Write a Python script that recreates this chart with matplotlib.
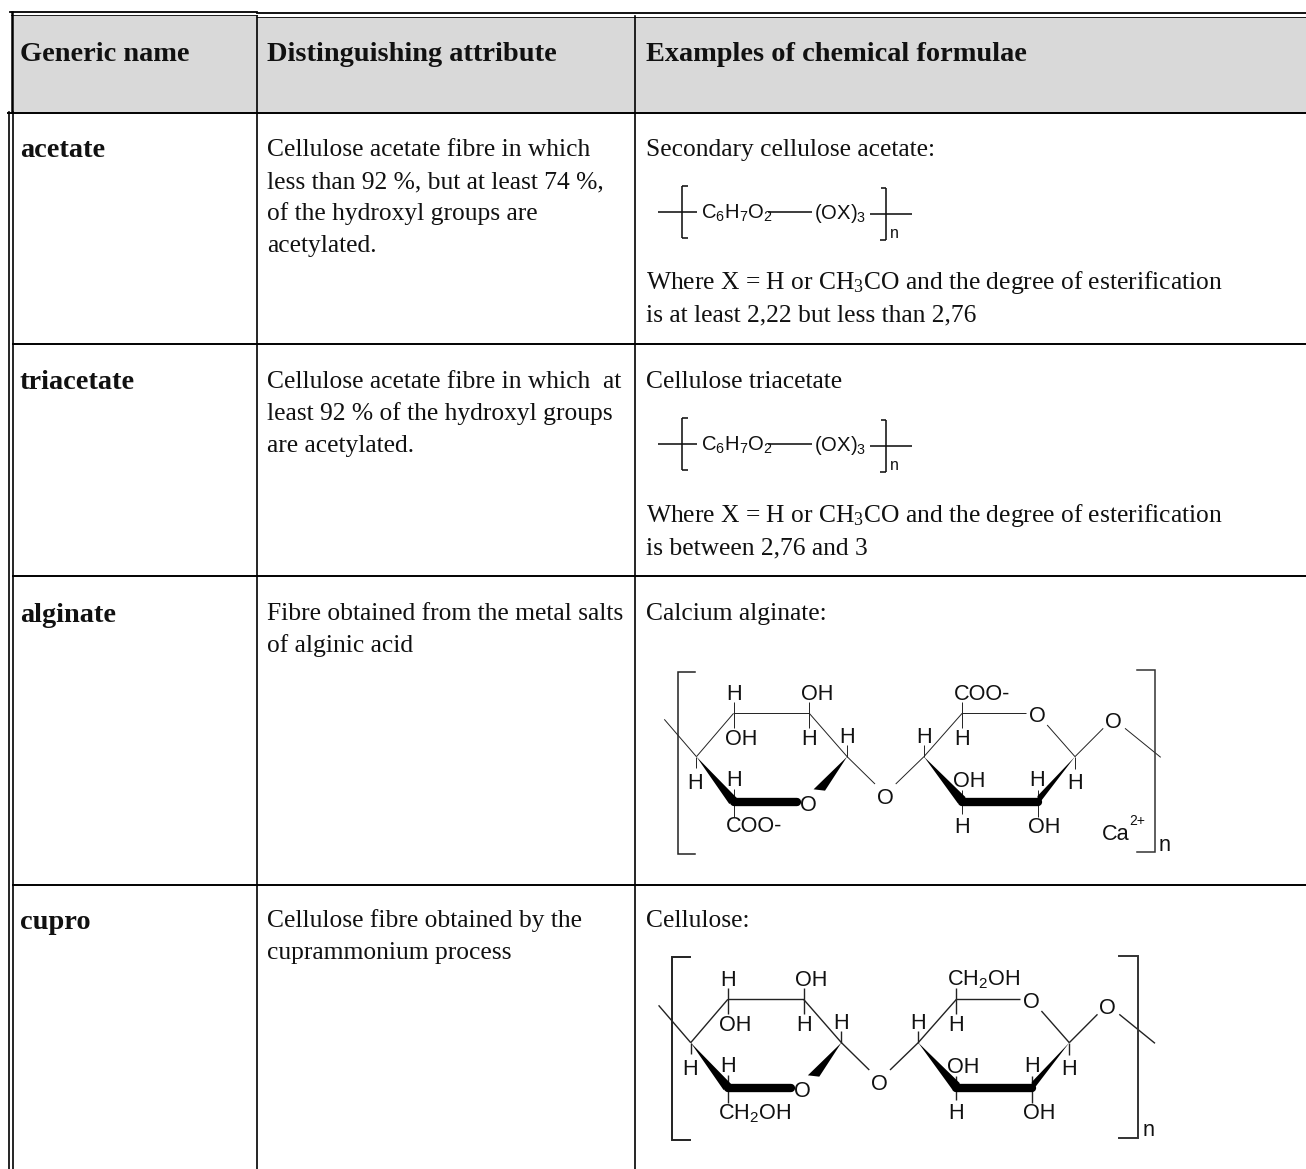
import matplotlib
matplotlib.use("Agg")
import matplotlib.pyplot as plt
from matplotlib.patches import Polygon, Rectangle

plt.rcParams["mathtext.default"] = "regular"

SERIF = "Liberation Serif"
SANS = "Liberation Sans"
BODY_SIZE = 18.4
HEAD_SIZE = 20.4
MOL_SIZE = 15.6
UNIT_SIZE = 14.6
INK = "#111111"

# column x edges and row y edges of the table, in pixels
COL_X = [257, 635]
ROW_Y = [884.7, 576, 344]

HEADERS = ["Generic name", "Distinguishing attribute", "Examples of chemical formulae"]
GENERIC_NAMES = ["acetate", "triacetate", "alginate", "cupro"]
GENERIC_BASE = [157, 389, 622, 929]

ATTRIBUTE_LINES = [
    ("Cellulose acetate fibre in which", 156),
    ("less than 92 %, but at least 74 %,", 188),
    ("of the hydroxyl groups are", 220),
    ("acetylated.", 252),
    ("Cellulose acetate fibre in which  at", 388),
    ("least 92 % of the hydroxyl groups", 420),
    ("are acetylated.", 452),
    ("Fibre obtained from the metal salts", 620),
    ("of alginic acid", 652),
    ("Cellulose fibre obtained by the", 927),
    ("cuprammonium process", 959),
]
EXAMPLE_LINES = [
    ("Secondary cellulose acetate:", 156),
    ("Where X = H or CH$_3$CO and the degree of esterification", 289),
    ("is at least 2,22 but less than 2,76", 321),
    ("Cellulose triacetate", 388),
    ("Where X = H or CH$_3$CO and the degree of esterification", 522),
    ("is between 2,76 and 3", 554),
    ("Calcium alginate:", 620),
    ("Cellulose:", 927),
]

# sugar ring drawing (x / 2.8, y / 3 gives pixels)
THIN_BONDS = [
    ((68, 178), (158, 290)), ((158, 290), (262, 160)), ((262, 160), (474, 160)),
    ((474, 160), (580, 290)), ((580, 290), (658, 372)), ((716, 372), (795, 290)),
    ((795, 290), (902, 160)), ((902, 160), (1080, 160)), ((1140, 195), (1218, 290)),
    ((1218, 290), (1297, 205)), ((1358, 205), (1458, 292)),
    ((262, 125), (262, 205)), ((474, 125), (474, 205)), ((158, 290), (158, 325)),
    ((262, 388), (262, 470)), ((580, 255), (580, 290)), ((795, 255), (795, 290)),
    ((902, 125), (902, 205)), ((902, 390), (902, 462)), ((1113, 390), (1113, 470)),
    ((1218, 290), (1218, 328)),
]
WEDGES = [
    [(158, 290), (250, 432), (272, 415)],
    [(580, 290), (486, 388), (518, 392)],
    [(795, 290), (890, 430), (912, 412)],
    [(1218, 290), (1113, 408), (1113, 437)],
]
THICK_BONDS = [((262, 425), (440, 425)), ((902, 425), (1113, 425))]
RING_LABELS = [
    ("H", 262, 97), ("OH", 495, 97), ("OH", 283, 232), ("H", 474, 232), ("H", 580, 225),
    ("H", 155, 362), ("H", 262, 355), ("O", 472, 428), ("O", 686, 408), ("H", 795, 225),
    ("H", 902, 232), ("O", 1112, 163), ("O", 1325, 180), ("OH", 922, 358), ("H", 1113, 355),
    ("H", 1218, 362), ("H", 902, 495), ("OH", 1133, 495),
]
ALGINATE_LABELS = [("COO-", 318, 492), ("COO-", 958, 97), ("Ca", 1333, 515)]
CELLULOSE_LABELS = [("CH$_2$OH", 338, 494), ("CH$_2$OH", 977, 94)]


def draw_table(ax):
    ax.add_patch(Rectangle((13, 14.5), 244, 97.5, facecolor="#d9d9d9", edgecolor="none", zorder=0))
    ax.add_patch(Rectangle((257, 16.5), 1049, 95.5, facecolor="#d9d9d9", edgecolor="none", zorder=0))
    # header box, doubled along the top and left
    ax.plot([10, 257], [12, 12], color="black", lw=1.3)
    ax.plot([11, 257], [14.7, 14.7], color="black", lw=0.6)
    ax.plot([257, 1306], [13, 13], color="black", lw=1.3)
    ax.plot([257, 1306], [16.7, 16.7], color="black", lw=0.6)
    ax.plot([12.2, 12.2], [12, 112], color="black", lw=1.8)
    ax.plot([9, 9], [112, 1169], color="black", lw=1.2)
    ax.plot([12.7, 12.7], [112, 1169], color="black", lw=1.2)
    for x in COL_X:
        ax.plot([x, x], [16, 1169], color="black", lw=1.2)
    ax.plot([8, 1306], [112.5, 112.5], color="black", lw=1.4)
    for y in ROW_Y:
        ax.plot([12.7, 1306], [y, y], color="black", lw=1.4)


def draw_text(ax):
    for x, label in zip([20, 267, 646], HEADERS):
        ax.text(x, 61, label, family=SERIF, weight="bold", fontsize=HEAD_SIZE, va="baseline", color=INK)
    for name, y in zip(GENERIC_NAMES, GENERIC_BASE):
        ax.text(20, y, name, family=SERIF, weight="bold", fontsize=HEAD_SIZE, va="baseline", color=INK)
    for line, y in ATTRIBUTE_LINES:
        ax.text(267, y, line, family=SERIF, fontsize=BODY_SIZE, va="baseline", color=INK)
    for line, y in EXAMPLE_LINES:
        ax.text(646, y, line, family=SERIF, fontsize=BODY_SIZE, va="baseline", color=INK)


def draw_simple_formula(ax, dy):
    # short repeat unit, 1/3 pixel units from (640, 170 + dy)
    def p(zx, zy):
        return 640 + zx / 3, 170 + dy + zy / 3

    segments = [
        ((55, 127), (172, 127)), ((385, 127), (515, 127)), ((690, 132), (815, 132)),
        ((143, 47), (127, 47)), ((127, 47), (127, 205)), ((127, 205), (143, 205)),
        ((722, 53), (738, 53)), ((738, 53), (738, 211)), ((738, 211), (720, 211)),
    ]
    for a, b in segments:
        xa, ya = p(*a)
        xb, yb = p(*b)
        ax.plot([xa, xb], [ya, yb], color="#111111", lw=1.15, solid_capstyle="butt")
    x, y = p(183, 147)
    ax.text(x, y, "C$_6$H$_7$O$_2$", family=SANS, fontsize=UNIT_SIZE, va="baseline", color=INK)
    x, y = p(523, 147)
    ax.text(x, y, "(OX)$_3$", family=SANS, fontsize=UNIT_SIZE, va="baseline", color=INK)
    x, y = p(750, 203)
    ax.text(x, y, "n", family=SANS, fontsize=11.5, va="baseline", color=INK)


def draw_ring(ax, ox, oy, labels, left_br, right_br, n_pos, lw):
    def p(zx, zy):
        return ox + zx / 2.8, oy + zy / 3

    for a, b in THIN_BONDS:
        xa, ya = p(*a)
        xb, yb = p(*b)
        ax.plot([xa, xb], [ya, yb], color="#222222", lw=lw, solid_capstyle="butt", zorder=2)
    for a, b in THICK_BONDS:
        xa, ya = p(*a)
        xb, yb = p(*b)
        ax.plot([xa, xb], [ya, yb], color="black", lw=6.0, solid_capstyle="round", zorder=2)
    for pts in WEDGES:
        ax.add_patch(Polygon([p(*q) for q in pts], closed=True, facecolor="black", edgecolor="none", zorder=2))
    for text, zx, zy in RING_LABELS + labels:
        x, y = p(zx, zy)
        ax.text(x, y, text, family=SANS, fontsize=MOL_SIZE, ha="center", va="center_baseline",
                color=INK, zorder=3)
    for pts, color in ((left_br, "#222222"), (right_br, "#333333")):
        xy = [p(*q) for q in pts]
        ax.plot([q[0] for q in xy], [q[1] for q in xy], color=color, lw=lw + 0.4, solid_joinstyle="miter", zorder=2)
    x, y = p(*n_pos)
    ax.text(x, y, "n", family=SANS, fontsize=MOL_SIZE, ha="center", va="center_baseline", color=INK)


def main():
    fig = plt.figure(figsize=(13.06, 11.69), dpi=100)
    ax = fig.add_axes([0, 0, 1, 1])
    ax.set_xlim(0, 1306)
    ax.set_ylim(1169, 0)
    ax.axis("off")

    draw_table(ax)
    draw_text(ax)
    draw_simple_formula(ax, 0)
    draw_simple_formula(ax, 232)

    draw_ring(ax, 640, 660, ALGINATE_LABELS,
              [(155, 37), (105, 37), (105, 582), (155, 582)],
              [(1392, 30), (1442, 30), (1442, 575), (1392, 575)],
              (1470, 548), 0.7)
    x, y = 640 + 1393 / 2.8, 660 + 478 / 3
    ax.text(x, y, "2+", family=SANS, fontsize=10, ha="center", va="center_baseline", color=INK)

    draw_ring(ax, 640 - 16 / 2.8, 950 - 12 / 3, CELLULOSE_LABELS,
              [(156, 34), (106, 34), (106, 582), (156, 582)],
              [(1358, 29), (1410, 29), (1410, 575), (1358, 575)],
              (1440, 547), 1.0)

    fig.savefig("out.png", dpi=100, facecolor="white")


if __name__ == "__main__":
    main()
